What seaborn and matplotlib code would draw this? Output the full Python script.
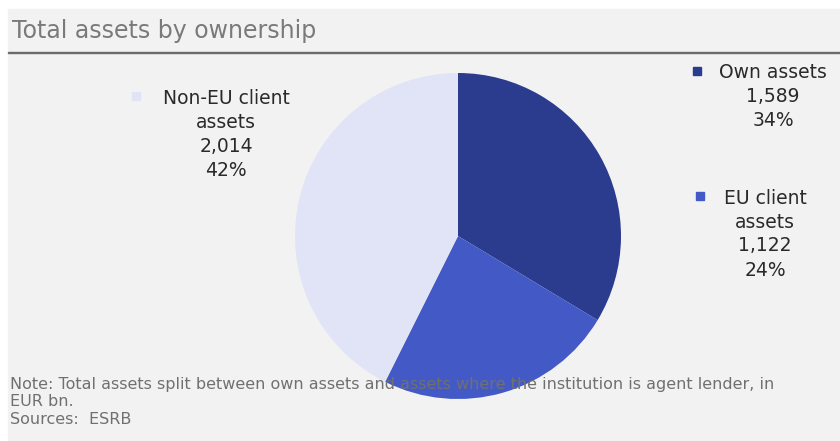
import matplotlib
matplotlib.use("Agg")
import matplotlib.pyplot as plt
import seaborn as sns
from matplotlib.patches import Rectangle

sns.set_theme(style="white")
plt.rcParams['font.family'] = ['DejaVu Sans']

categories = ["Own assets", "EU client\nassets", "Non-EU client\nassets"]
values = [1589, 1122, 2014]
shares = ["34%", "24%", "42%"]
colors = ["#2b3b8e", "#4259c6", "#e0e4f6"]

W, H = 840, 441
fig = plt.figure(figsize=(W / 100, H / 100), dpi=100, facecolor="#f2f2f2")

# background frame: white margin at top/left, title bar, rule
fig.patches.append(Rectangle((0, 0), 1, 1, transform=fig.transFigure, color="white", zorder=-3))
fig.patches.append(Rectangle((8 / W, 0), 1, 1 - 9 / H, transform=fig.transFigure, color="#f2f2f2", zorder=-2))
fig.patches.append(Rectangle((8 / W, 1 - 53 / H), 1, 1.5 / H, transform=fig.transFigure, color="#6b6b6b", zorder=-1))

fig.text(12 / W, 1 - 31 / H, "Total assets by ownership", fontsize=17, color="#7a7a7a",
         va="center", ha="left")

# pie
cx, cy, r = 458, 236, 163
ax = fig.add_axes([(cx - r) / W, 1 - (cy + r) / H, 2 * r / W, 2 * r / H])
ax.pie(values, colors=colors, startangle=90, counterclock=False,
       wedgeprops=dict(linewidth=0), radius=1)
ax.set_xlim(-1, 1)
ax.set_ylim(-1, 1)
ax.set_aspect("auto")
ax.axis("off")

def fmt(v):
    return f"{v:,}"

label_pos = [
    (773, 73, 697),
    (765, 198, 700),
    (226, 98, 136),
]
fs = 13.5
line_h = 24
for (lx, ly, sqx), cat, v, s, c in zip(label_pos, categories, values, shares, colors):
    lines = cat.split("\n") + [fmt(v), s]
    for i, ln in enumerate(lines):
        fig.text(lx / W, 1 - (ly + i * line_h) / H, ln, fontsize=fs, color="#2a2a2a",
                 ha="center", va="center")
    fig.patches.append(Rectangle(((sqx - 4) / W, 1 - (ly - 2 + 4) / H), 8 / W, 8 / H,
                                 transform=fig.transFigure, color=c, zorder=5))

note_color = "#707070"
nfs = 11.5
fig.text(10 / W, 1 - 384 / H,
         "Note: Total assets split between own assets and assets where the institution is agent lender, in",
         fontsize=nfs, color=note_color, ha="left", va="center", zorder=10)
fig.text(10 / W, 1 - 402 / H, "EUR bn.", fontsize=nfs, color=note_color, ha="left", va="center", zorder=10)
fig.text(10 / W, 1 - 420 / H, "Sources:  ESRB", fontsize=nfs, color=note_color, ha="left", va="center", zorder=10)

fig.savefig("out.png", dpi=100, facecolor=fig.get_facecolor())
